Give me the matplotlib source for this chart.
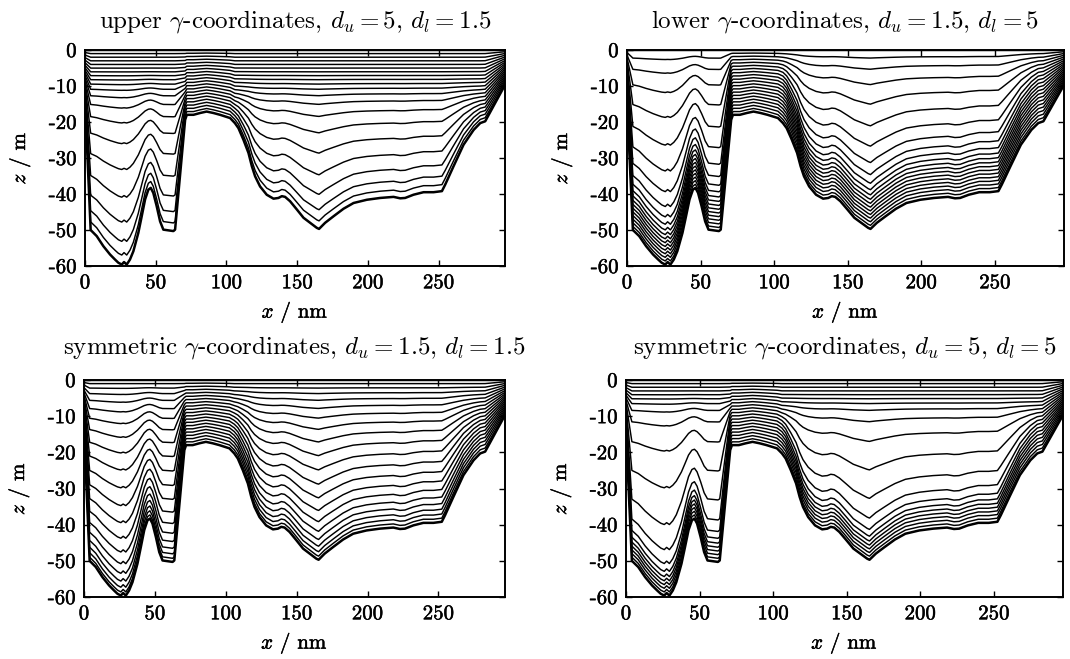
import numpy as np
import matplotlib
matplotlib.use("Agg")
import matplotlib.pyplot as plt
import matplotlib.patheffects as pe
from matplotlib.ticker import FixedLocator, FixedFormatter

# ---------------- data ----------------
# bathymetry (bottom depth below surface) along the transect
x_nm = [0, 4, 8.3, 13, 17.7, 21.2, 23.6, 26, 27.6, 29.5, 31.8, 34.2, 37.7,
        40.1, 42.5, 44.8, 46.5, 48.3, 50.7, 53.1, 55.4, 62.5, 63.7, 70.8,
        72, 76.7, 81.4, 86, 90.8, 95.5, 102.6, 106, 108.5, 112, 115.6, 118,
        120.3, 123.8, 128.5, 133.3, 136.8, 139.2, 141.5, 145, 149.8, 154.5,
        159.2, 163.9, 165.5, 169.8, 175.7, 182.8, 189.9, 199.3, 208.7, 218.2,
        222.9, 226.4, 232.3, 239.4, 246.5, 252.4, 254.7, 260.6, 267.7, 274.8,
        279.5, 283, 297]
depth_m = [14, 50, 51.7, 54.5, 56.8, 58.2, 59.1, 59.6, 58.9, 59.6, 58.2, 55.9,
           50.8, 46.2, 41.5, 38.8, 38.3, 39.7, 43.4, 47.6, 49.9, 50.3, 49.9,
           19.4, 18.0, 18.0, 17.5, 17.1, 17.5, 18.0, 18.9, 20.3, 21.7, 24.9,
           28.6, 32.3, 35.1, 37.9, 40.2, 41.3, 41.1, 40.6, 40.8, 42.0, 44.3,
           46.6, 48.0, 49.4, 49.7, 48.0, 46.2, 44.1, 42.5, 41.6, 41.1, 40.8,
           41.2, 41.1, 40.2, 39.5, 39.5, 39.2, 37.4, 32.3, 26.3, 22.2, 20.3,
           19.8, 9.7]

# panel parameters (from the panel titles)
panel_kind = ["upper", "lower", "symmetric", "symmetric"]
d_upper = [5, 1.5, 1.5, 5]
d_lower = [1.5, 5, 1.5, 5]
titles = [r"upper $\gamma$-coordinates, $d_u = 5$, $d_l = 1.5$",
          r"lower $\gamma$-coordinates, $d_u = 1.5$, $d_l = 5$",
          r"symmetric $\gamma$-coordinates, $d_u = 1.5$, $d_l = 1.5$",
          r"symmetric $\gamma$-coordinates, $d_u = 5$, $d_l = 5$"]
n_layers = 20
d_gamma = 20.0

x_ticks = [0, 50, 100, 150, 200, 250]
x_ticklabels = ["0", "50", "100", "150", "200", "250"]
y_ticks = [-60, -50, -40, -30, -20, -10, 0]
y_ticklabels = ["-60", "-50", "-40", "-30", "-20", "-10", "0"]


def gamma_interfaces(H, du, dl, N, Dg, surface):
    """General vertical (gamma) coordinates, interface depths z_k(x)."""
    H = np.asarray(H, float)
    k = np.arange(N + 1)
    sig = k / N - 1.0
    be = (np.tanh((dl + du) * k / N - dl) + np.tanh(dl)) / (np.tanh(dl) + np.tanh(du)) - 1.0
    kk = N if surface else 1
    dbe = be[kk] - be[kk - 1]
    dsig = sig[kk] - sig[kk - 1]
    HH = np.maximum(H, Dg)
    alpha = np.minimum((dbe - Dg / HH * dsig) / (dbe - dsig), 1.0)
    ga = alpha[None, :] * sig[:, None] + (1 - alpha[None, :]) * be[:, None]
    return H[None, :] * ga


plt.rcParams["font.family"] = ["cmr10", "DejaVu Serif"]
plt.rcParams["mathtext.fontset"] = "cm"
plt.rcParams["axes.unicode_minus"] = False

W, Hpx = 1070, 659
fig = plt.figure(figsize=(W / 100, Hpx / 100), dpi=100)

boxes = [(85, 50, 505, 266), (627, 50, 1064, 266),
         (84, 380, 505, 597), (626, 380, 1063, 597)]
title_pads = [16.5, 16.5, 19, 19]
heavy = [pe.withStroke(linewidth=0.35, foreground="black")]

for i in range(4):
    l, t, r, b = boxes[i]
    ax = fig.add_axes([l / W, 1 - b / Hpx, (r - l) / W, (b - t) / Hpx])
    z = gamma_interfaces(depth_m, d_upper[i], d_lower[i], n_layers, d_gamma,
                         surface=(panel_kind[i] != "lower"))
    for kk in range(n_layers + 1):
        ax.plot(x_nm, z[kk], color="black",
                lw=1.8 if kk == 0 else 1.05, solid_joinstyle="round")
    ax.set_xlim(0, 297)
    ax.set_ylim(-60, 0)
    ax.xaxis.set_major_locator(FixedLocator(x_ticks))
    ax.xaxis.set_major_formatter(FixedFormatter(x_ticklabels))
    ax.yaxis.set_major_locator(FixedLocator(y_ticks))
    ax.yaxis.set_major_formatter(FixedFormatter(y_ticklabels))
    ax.tick_params(direction="in", top=True, right=True, length=4,
                   width=1.0, labelsize=15, pad=6)
    for s in ax.spines.values():
        s.set_linewidth(1.4)
    ax.set_title(titles[i], fontsize=18, pad=title_pads[i])
    ax.set_xlabel(r"$x$ / nm", fontsize=15, labelpad=6)
    ax.set_ylabel(r"$z$ / m", fontsize=15, labelpad=12)
    for lab in ax.get_xticklabels() + ax.get_yticklabels():
        lab.set_path_effects(heavy)
    ax.xaxis.label.set_path_effects(heavy)
    ax.yaxis.label.set_path_effects(heavy)

fig.savefig("out.png", dpi=100)
